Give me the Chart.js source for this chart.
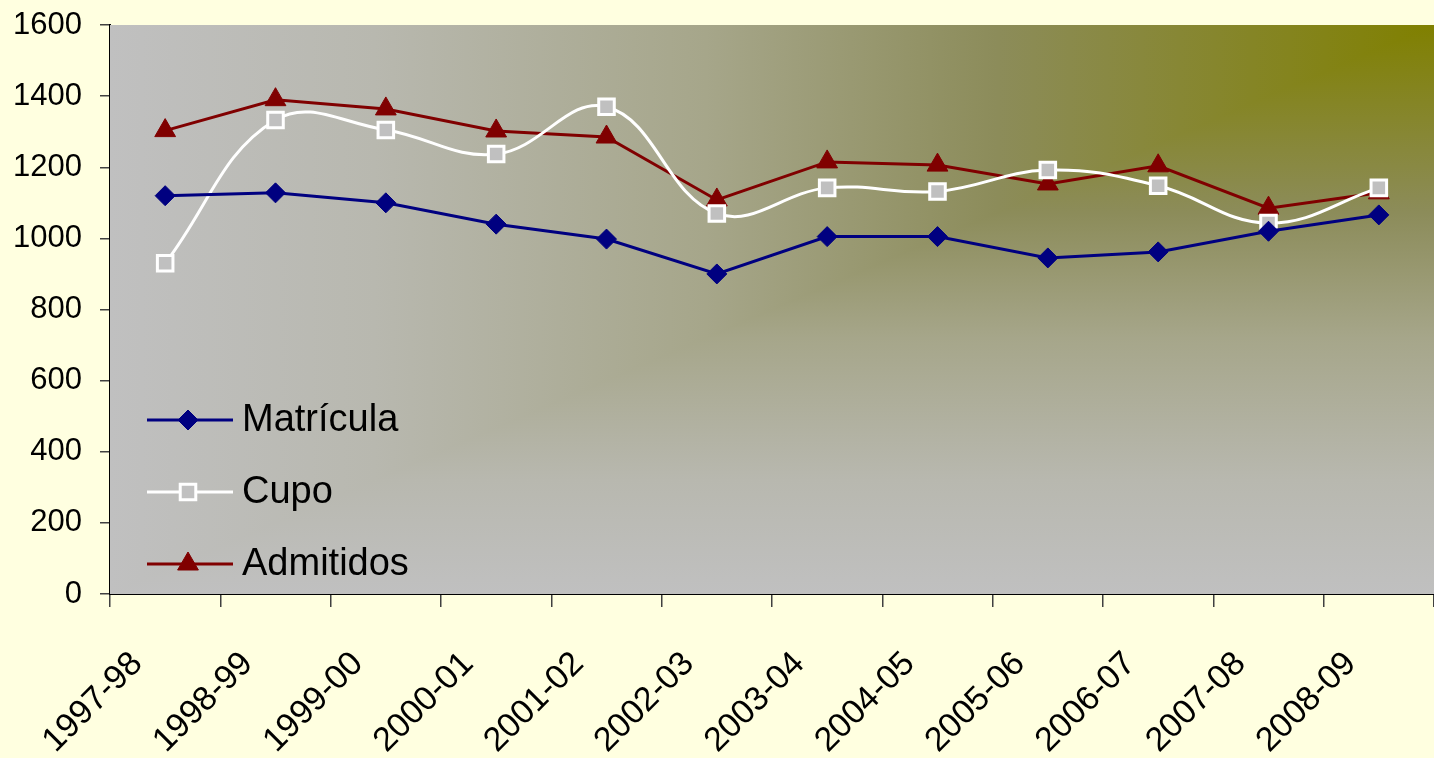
<!DOCTYPE html>
<html>
<head>
<meta charset="utf-8">
<script src="https://cdn.jsdelivr.net/npm/chart.js@4/dist/chart.umd.min.js"></script>
<style>
    html, body { margin: 0; padding: 0; background: #FFFFE0; }
    #wrap { width: 1434px; height: 758px; }
</style>
</head>
<body>
<div id="wrap"><canvas id="chart" width="1434" height="758"></canvas></div>
<script>
// Data
const years = ['1997-98', '1998-99', '1999-00', '2000-01', '2001-02', '2002-03',
               '2003-04', '2004-05', '2005-06', '2006-07', '2007-08', '2008-09'];
const matricula = [1120, 1128, 1100, 1040, 998, 900, 1005, 1005, 945, 962, 1020, 1066];
const cupo      = [930, 1333, 1305, 1237, 1370, 1070, 1142, 1132, 1192, 1148, 1043, 1142];
const admitidos = [1303, 1390, 1364, 1302, 1285, 1108, 1215, 1206, 1153, 1204, 1085, 1128];
const yTicks = [0, 200, 400, 600, 800, 1000, 1200, 1400, 1600];

const FONT = "Arial, 'Liberation Sans', sans-serif";

/**
 * Plot area fill: corner gradient, olive at top-right fading to gray
 */
const plotBackground = {
    id: 'plotBackground',
    beforeDatasetsDraw(chart) {
        const { ctx, chartArea: a } = chart;
        const stops = [
            [0, '#808000'],
            [0.33, 'rgb(140,140,90)'],
            [0.55, 'rgb(166,166,138)'],
            [0.8, 'rgb(184,184,175)'],
            [1, '#C0C0C0']
        ];
        ctx.save();
        // whole area with horizontal gradient (upper-left half is correct)
        let g = ctx.createLinearGradient(a.right, a.top, a.left, a.top);
        stops.forEach(s => g.addColorStop(s[0], s[1]));
        ctx.fillStyle = g;
        ctx.fillRect(a.left, a.top, a.width, a.height);
        // lower-right triangle: vertical gradient
        g = ctx.createLinearGradient(a.right, a.top, a.right, a.bottom);
        stops.forEach(s => g.addColorStop(s[0], s[1]));
        ctx.beginPath();
        ctx.moveTo(a.right, a.top);
        ctx.lineTo(a.right, a.bottom);
        ctx.lineTo(a.left, a.bottom);
        ctx.closePath();
        ctx.fillStyle = g;
        ctx.fill();
        ctx.restore();
    }
};

/**
 * Legend drawn inside the plot area, lower left
 */
const insideLegend = {
    id: 'insideLegend',
    afterDatasetsDraw(chart) {
        const { ctx } = chart;
        const rows = [420, 492, 564];
        chart.data.datasets.forEach((ds, i) => {
            const y = rows[i];
            ctx.save();
            ctx.strokeStyle = ds.borderColor;
            ctx.lineWidth = 3;
            ctx.beginPath();
            ctx.moveTo(147, y);
            ctx.lineTo(233, y);
            ctx.stroke();
            ctx.fillStyle = ds.pointBackgroundColor;
            ctx.strokeStyle = ds.pointBorderColor;
            ctx.lineWidth = ds.pointBorderWidth;
            Chart.helpers.drawPoint(ctx, {
                pointStyle: ds.pointStyle,
                radius: ds.pointRadius,
                rotation: 0,
                borderWidth: ds.pointBorderWidth
            }, 188, y);
            ctx.fillStyle = '#000';
            ctx.font = '38px ' + FONT;
            ctx.textBaseline = 'middle';
            ctx.textAlign = 'left';
            ctx.fillText(ds.label, 242, y + 1);
            ctx.restore();
        });
    }
};

document.addEventListener('DOMContentLoaded', () => {
    const ctx = document.getElementById('chart');
    new Chart(ctx, {
        type: 'line',
        data: {
            labels: years,
            datasets: [
                {
                    label: 'Matrícula',
                    data: matricula,
                    borderColor: '#000080',
                    borderWidth: 3,
                    pointStyle: 'rectRot',
                    pointRadius: 10,
                    pointBackgroundColor: '#000080',
                    pointBorderColor: '#000080',
                    pointBorderWidth: 1,
                    tension: 0
                },
                {
                    label: 'Cupo',
                    data: cupo,
                    borderColor: '#FFFFFF',
                    borderWidth: 3,
                    pointStyle: 'rect',
                    pointRadius: 11,
                    pointBackgroundColor: '#C0C0C0',
                    pointBorderColor: '#FFFFFF',
                    pointBorderWidth: 3,
                    tension: 0.4
                },
                {
                    label: 'Admitidos',
                    data: admitidos,
                    borderColor: '#800000',
                    borderWidth: 3,
                    pointStyle: 'triangle',
                    pointRadius: 12,
                    pointBackgroundColor: '#800000',
                    pointBorderColor: '#800000',
                    pointBorderWidth: 1,
                    tension: 0
                }
            ]
        },
        options: {
            responsive: false,
            animation: false,
            layout: {
                autoPadding: false,
                padding: { top: 25, right: -9, left: 0, bottom: 0 }
            },
            plugins: {
                legend: { display: false },
                tooltip: { enabled: false }
            },
            scales: {
                x: {
                    offset: true,
                    grid: {
                        offset: true,
                        drawOnChartArea: false,
                        drawTicks: true,
                        tickLength: 13,
                        color: '#404040',
                        lineWidth: 1.5
                    },
                    border: { color: '#000', width: 2 },
                    ticks: {
                        color: '#000',
                        font: { family: FONT, size: 34 },
                        minRotation: 45,
                        maxRotation: 45,
                        autoSkip: false,
                        padding: 37,
                        labelOffset: -28
                    },
                    afterFit(scale) {
                        scale.height = 164;
                        scale.paddingLeft = 0;
                        scale.paddingRight = 0;
                    }
                },
                y: {
                    min: 0,
                    max: 1600,
                    afterBuildTicks(scale) {
                        scale.ticks = yTicks.map(v => ({ value: v }));
                    },
                    grid: {
                        drawOnChartArea: false,
                        drawTicks: true,
                        tickLength: 10,
                        color: '#404040',
                        lineWidth: 1.5
                    },
                    border: { color: '#000', width: 2 },
                    ticks: {
                        color: '#000',
                        font: { family: FONT, size: 31 },
                        padding: 18,
                        callback: v => String(v)
                    },
                    afterFit(scale) {
                        scale.width = 110;
                        scale.paddingTop = 0;
                        scale.paddingBottom = 0;
                    }
                }
            }
        },
        plugins: [plotBackground, insideLegend]
    });
});
</script>
</body>
</html>
